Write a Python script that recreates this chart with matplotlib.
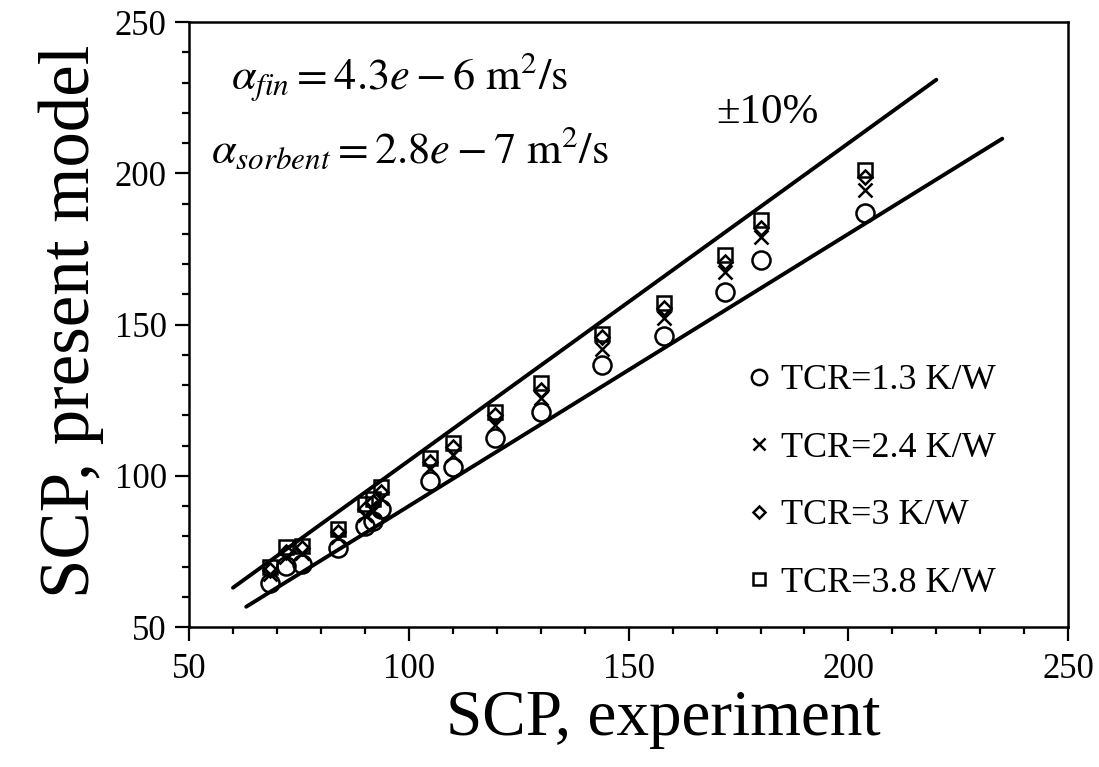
import numpy as np
import matplotlib
matplotlib.use("Agg")
import matplotlib.pyplot as plt
from matplotlib.ticker import MultipleLocator

# experimental SCP and model SCP for the four TCR values
scp_exp = [68.4, 72.1, 75.6, 84.0, 90.0, 91.9, 93.7, 104.8, 110.0, 119.6,
           130.0, 144.0, 158.0, 172.0, 180.0, 203.8]
scp_tcr13 = [64.5, 70.3, 71.0, 76.0, 83.5, 85.2, 89.0, 98.3, 103.0, 112.4,
             121.2, 136.6, 146.2, 160.9, 171.5, 187.0]
scp_tcr24 = [67.5, 73.3, 74.4, 79.9, 87.2, 88.4, 92.8, 102.5, 106.9, 116.8,
             125.8, 142.0, 152.2, 167.5, 179.0, 194.5]
scp_tcr30 = [68.8, 74.9, 76.0, 81.5, 89.0, 91.2, 94.8, 104.7, 109.6, 120.1,
             128.4, 146.0, 155.4, 170.8, 182.0, 198.9]
scp_tcr38 = [70.0, 76.3, 76.9, 82.3, 90.6, 92.4, 96.2, 105.8, 110.7, 121.2,
             130.6, 147.0, 157.3, 173.0, 184.5, 201.0]

labels = ["TCR=1.3 K/W", "TCR=2.4 K/W", "TCR=3 K/W", "TCR=3.8 K/W"]

# bounding lines
upper_x = [60, 220]
upper_k = 1.05
lower_x = [63, 235]
lower_k = 0.90

plt.rcParams['font.family'] = ['Liberation Serif', 'DejaVu Serif']
plt.rcParams['mathtext.fontset'] = 'stix'

fig = plt.figure(figsize=(10.99, 7.67), dpi=100)
ax = fig.add_axes([0.172, 0.1825, 0.800, 0.7885])

ax.plot(upper_x, upper_k * np.array(upper_x), color='k', lw=2.8,
        solid_capstyle='round')
ax.plot(lower_x, lower_k * np.array(lower_x), color='k', lw=2.8,
        solid_capstyle='round')

mk = dict(ls='none', mfc='none', mec='k', mew=1.8)
ax.plot(scp_exp, scp_tcr13, marker='o', ms=13, label=labels[0], **mk)
ax.plot(scp_exp, scp_tcr24, marker='x', ms=10, label=labels[1], **mk)
ax.plot(scp_exp, scp_tcr30, marker='D', ms=7.5, label=labels[2], **mk)
ax.plot(scp_exp, scp_tcr38, marker='s', ms=10, label=labels[3], **mk)

ax.set_xlim(50, 250)
ax.set_ylim(50, 250)
ax.xaxis.set_major_locator(MultipleLocator(50))
ax.yaxis.set_major_locator(MultipleLocator(50))
ax.xaxis.set_minor_locator(MultipleLocator(10))
ax.yaxis.set_minor_locator(MultipleLocator(10))
ax.tick_params(which='major', direction='out', length=10, width=1.6,
               labelsize=25, top=False, right=False, pad=6)
ax.tick_params(axis='x', which='major', pad=9)
ax.tick_params(which='minor', direction='out', length=5, width=1.6,
               top=False, right=False)
for s in ax.spines.values():
    s.set_linewidth(1.8)

ax.set_xlabel('SCP, experiment', fontsize=47)
ax.set_ylabel('SCP, present model', fontsize=51)
ax.xaxis.set_label_coords(0.539, -0.104)
ax.yaxis.set_label_coords(-0.097, 0.505)

ax.text(59.5, 232, r'$\alpha_{fin} = 4.3e - 6\ \mathrm{m^2/s}$',
        fontsize=32, ha='left', va='center')
ax.text(55, 208, r'$\alpha_{sorbent} = 2.8e - 7\ \mathrm{m^2/s}$',
        fontsize=32, ha='left', va='center')
ax.text(181.5, 220, '±10%', fontsize=31, ha='center', va='center')

ax.legend(loc='center left', bbox_to_anchor=(0.62, 0.24), frameon=False,
          fontsize=26, markerscale=0.85, handlelength=0.6, handletextpad=0.3,
          labelspacing=0.95, borderaxespad=0)

fig.savefig('out.png', dpi=100)
